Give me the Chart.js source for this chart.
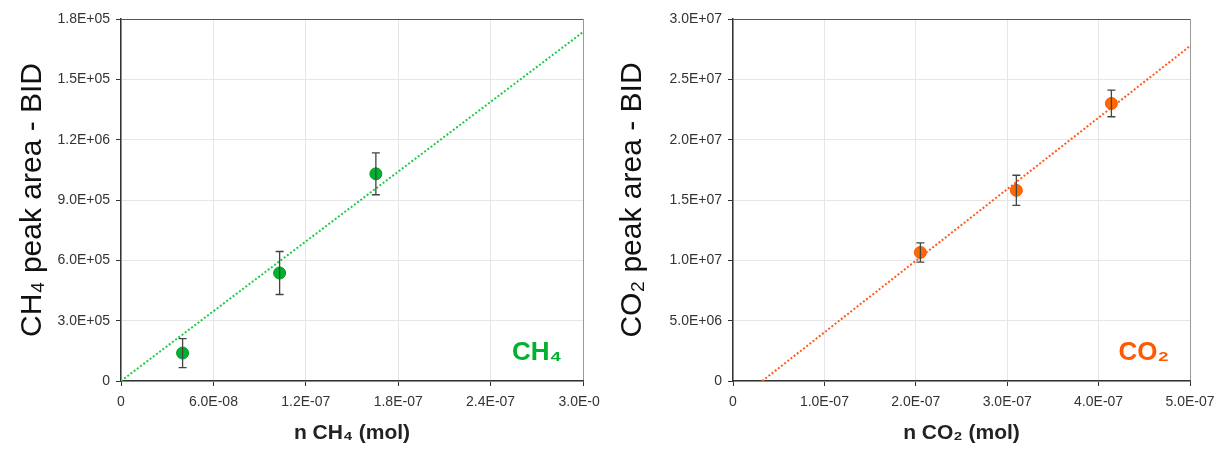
<!DOCTYPE html>
<html>
<head>
<meta charset="utf-8">
<script src="https://cdn.jsdelivr.net/npm/chart.js@4.4.0/dist/chart.umd.min.js"></script>
<style>
  body { margin: 0; background: #fff; }
  #wrap { position: relative; width: 1222px; height: 450px; }
  #c1 { position: absolute; left: 0; top: 0; }
  #c2 { position: absolute; left: 600px; top: 0; }
</style>
</head>
<body>
<div id="wrap">
  <canvas id="c1" width="600" height="450"></canvas>
  <canvas id="c2" width="622" height="450"></canvas>
</div>
<script>
// CH4 calibration
const ch4X = [4.0e-8, 1.03e-7, 1.655e-7];
const ch4Y = [1.39e5, 5.37e5, 1.03e6];
const ch4Err = [7.2e4, 1.07e5, 1.04e5];
const ch4TrendX = [0, 3.0e-7];
const ch4TrendY = [0, 1.735e6];
const ch4XTicks = ['0', '6.0E-08', '1.2E-07', '1.8E-07', '2.4E-07', '3.0E-07'];
const ch4YTicks = ['0', '3.0E+05', '6.0E+05', '9.0E+05', '1.2E+06', '1.5E+05', '1.8E+05'];

// CO2 calibration
const co2X = [2.05e-7, 3.1e-7, 4.14e-7];
const co2Y = [1.065e7, 1.58e7, 2.30e7];
const co2Err = [8.0e5, 1.25e6, 1.1e6];
const co2TrendX = [3.2e-8, 5.0e-7];
const co2TrendY = [0, 2.776e7];
const co2XTicks = ['0', '1.0E-07', '2.0E-07', '3.0E-07', '4.0E-07', '5.0E-07'];
const co2YTicks = ['0', '5.0E+06', '1.0E+07', '1.5E+07', '2.0E+07', '2.5E+07', '3.0E+07'];

const errorBars = {
  id: 'errorBars',
  afterDatasetsDraw(chart) {
    const ctx = chart.ctx;
    const xs = chart.scales.x, ys = chart.scales.y;
    chart.data.datasets.forEach(ds => {
      if (!ds.errors) return;
      ctx.save();
      ctx.strokeStyle = '#444';
      ctx.lineWidth = 1.3;
      ds.data.forEach((p, i) => {
        const px = xs.getPixelForValue(p.x);
        const top = ys.getPixelForValue(p.y + ds.errors[i]);
        const bot = ys.getPixelForValue(p.y - ds.errors[i]);
        ctx.beginPath();
        ctx.moveTo(px, top); ctx.lineTo(px, bot);
        ctx.moveTo(px - 4, top); ctx.lineTo(px + 4, top);
        ctx.moveTo(px - 4, bot); ctx.lineTo(px + 4, bot);
        ctx.stroke();
      });
      ctx.restore();
    });
  }
};

const tagLabel = {
  id: 'tagLabel',
  afterDraw(chart, args, opts) {
    const ctx = chart.ctx, a = chart.chartArea;
    ctx.save();
    ctx.font = 'bold 26px "Liberation Sans", "DejaVu Sans", sans-serif';
    ctx.fillStyle = opts.color;
    ctx.textAlign = 'right';
    ctx.textBaseline = 'middle';
    ctx.fillText(opts.text, a.right - 21, a.bottom - 28);
    ctx.restore();
  }
};

function makeChart(id, cfg) {
  const toPts = (xs, ys) => xs.map((x, i) => ({ x: x, y: ys[i] }));
  const gridColor = ctx => (ctx.index === cfg.yTicks.length - 1 ? '#555' : '#e6e6e6');
  const xGridColor = ctx => (ctx.index === cfg.xTicks.length - 1 ? '#999' : '#e6e6e6');
  new Chart(document.getElementById(id), {
    type: 'scatter',
    data: {
      datasets: [
        {
          type: 'line',
          data: toPts(cfg.trendX, cfg.trendY),
          borderColor: cfg.lineColor,
          borderWidth: 2,
          borderDash: [2, 2],
          pointRadius: 0,
          fill: false
        },
        {
          data: toPts(cfg.x, cfg.y),
          errors: cfg.err,
          backgroundColor: cfg.color,
          borderColor: cfg.border,
          borderWidth: 1,
          pointRadius: 6
        }
      ]
    },
    options: {
      responsive: false,
      animation: false,
      layout: { padding: { left: 0, right: cfg.padRight, top: 19, bottom: 0 } },
      plugins: {
        legend: { display: false },
        tooltip: { enabled: false },
        tagLabel: { text: cfg.tag, color: cfg.tagColor }
      },
      scales: {
        x: {
          type: 'linear',
          min: 0,
          max: cfg.xMax,
          ticks: {
            stepSize: cfg.xMax / 5,
            color: '#333',
            font: { family: '"Liberation Sans", sans-serif', size: 14 },
            padding: 8,
            maxRotation: 0,
            callback: (v, i) => cfg.xTicks[i]
          },
          grid: { color: xGridColor, tickColor: '#333', tickLength: 5 },
          border: { color: '#333', width: 1.5 },
          title: {
            display: true,
            text: cfg.xTitle,
            color: '#222',
            font: { family: '"Liberation Sans", sans-serif', size: 21, weight: 'bold' },
            padding: { top: 8 }
          },
          afterFit: s => { s.height = 69; s.paddingLeft = 0; s.paddingRight = 0; }
        },
        y: {
          min: 0,
          max: cfg.yMax,
          ticks: {
            stepSize: cfg.yMax / 6,
            color: '#333',
            font: { family: '"Liberation Sans", sans-serif', size: 14 },
            padding: 6,
            callback: (v, i) => cfg.yTicks[i]
          },
          grid: { color: gridColor, tickColor: '#333', tickLength: 5 },
          border: { color: '#333', width: 1.5 },
          title: {
            display: true,
            text: cfg.yTitle,
            color: '#111',
            font: { family: '"Liberation Sans", sans-serif', size: 30 },
            padding: { top: 15, bottom: 0 }
          },
          afterFit: s => { s.width = cfg.yWidth; s.paddingTop = 0; s.paddingBottom = 0; }
        }
      }
    },
    plugins: [errorBars, tagLabel]
  });
}

makeChart('c1', {
  x: ch4X, y: ch4Y, err: ch4Err, trendX: ch4TrendX, trendY: ch4TrendY,
  xTicks: ch4XTicks, yTicks: ch4YTicks, xMax: 3.0e-7, yMax: 1.8e6,
  color: '#00b22d', border: '#009926', lineColor: '#1fcc45',
  tag: 'CH₄', tagColor: '#00b22d',
  xTitle: 'n CH₄ (mol)', yTitle: 'CH₄ peak area - BID',
  yWidth: 121, padRight: 17
});

makeChart('c2', {
  x: co2X, y: co2Y, err: co2Err, trendX: co2TrendX, trendY: co2TrendY,
  xTicks: co2XTicks, yTicks: co2YTicks, xMax: 5.0e-7, yMax: 3.0e7,
  color: '#ff6a00', border: '#f05a00', lineColor: '#ff5a1f',
  tag: 'CO₂', tagColor: '#ff5a00',
  xTitle: 'n CO₂ (mol)', yTitle: 'CO₂ peak area - BID',
  yWidth: 133, padRight: 32
});
</script>
</body>
</html>
